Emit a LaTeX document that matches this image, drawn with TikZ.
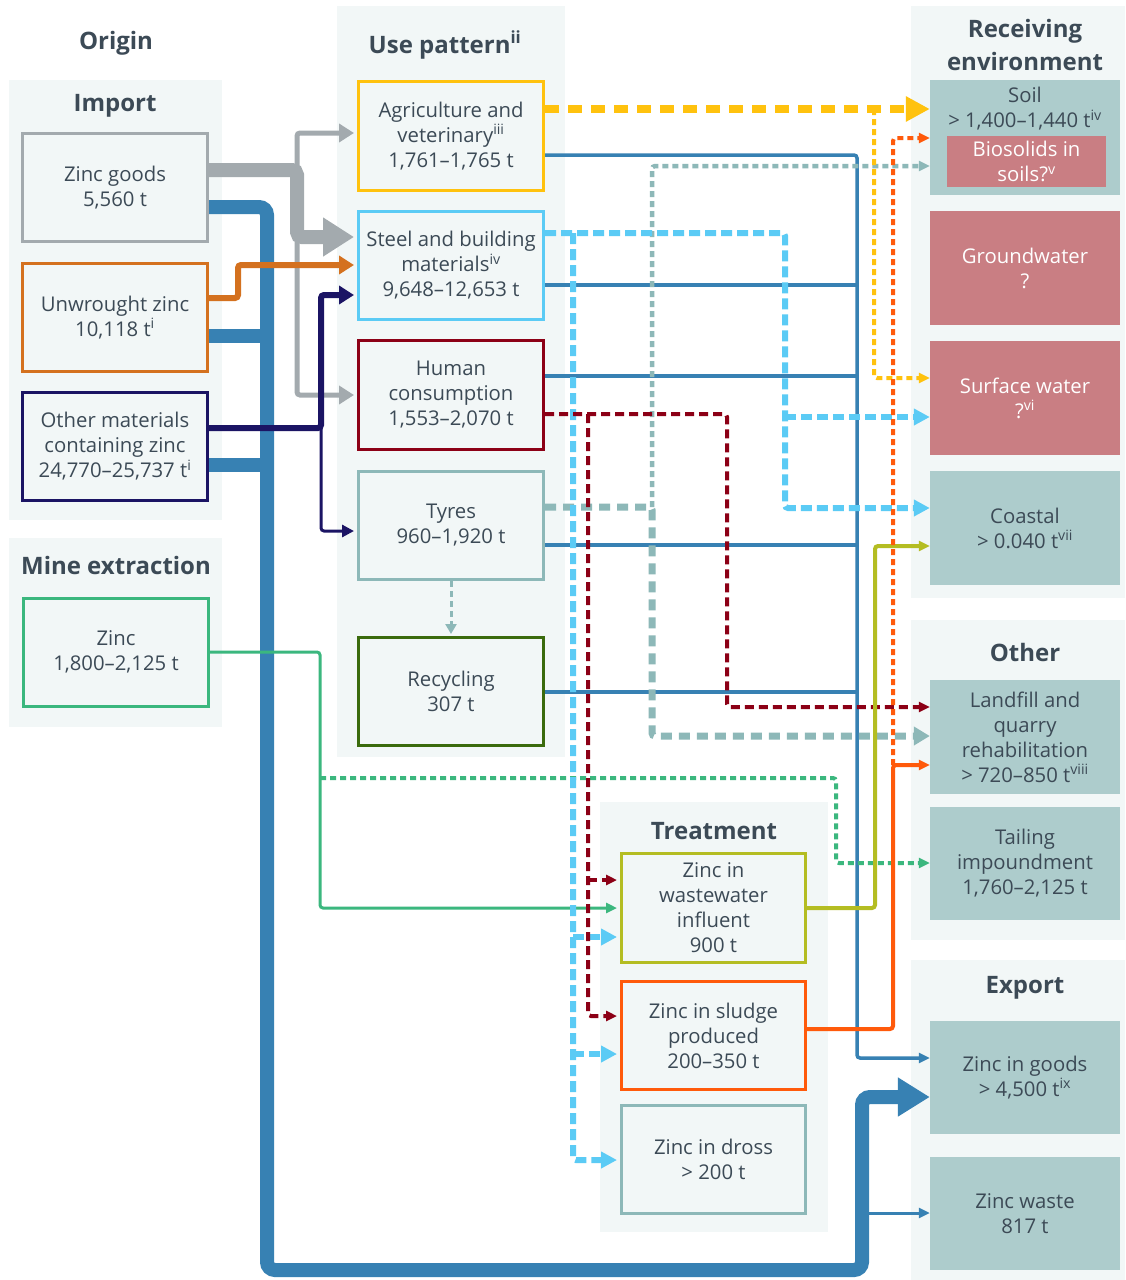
\documentclass[tikz,border=0pt]{standalone}
\usepackage{fontspec}
\setmainfont{Open Sans}
\usetikzlibrary{arrows.meta}
\definecolor{txt}{HTML}{3C4A56}
\definecolor{panel}{HTML}{F2F7F7}
\definecolor{cgray}{HTML}{A3AAAE}
\definecolor{corange}{HTML}{D4711F}
\definecolor{cnavy}{HTML}{1B1464}
\definecolor{cgreen}{HTML}{3BB77E}
\definecolor{cbus}{HTML}{3781B3}
\definecolor{cyel}{HTML}{FFC20E}
\definecolor{clblue}{HTML}{5BCBF5}
\definecolor{cdred}{HTML}{8C0016}
\definecolor{cteal}{HTML}{8DB8B8}
\definecolor{cdgreen}{HTML}{3B6B0D}
\definecolor{clime}{HTML}{B4BD22}
\definecolor{cored}{HTML}{FF5A0B}
\definecolor{rteal}{HTML}{ADCCCC}
\definecolor{rose}{HTML}{C97E83}
\newcommand\myBody{\fontsize{20.3}{25}\selectfont}
\newcommand\myHead{\fontsize{24}{33}\selectfont\bfseries}
\pgfdeclarelayer{panels}
\pgfdeclarelayer{lines}
\pgfsetlayers{panels,lines,main}
\tikzset{
  bx/.style={draw, line width=3pt, fill=panel, text=txt, align=center, inner sep=0pt,
    minimum width=185pt, minimum height=108pt, font=\myBody},
  rbox/.style={fill=rteal, text=txt, align=center, inner sep=0pt,
    minimum width=190pt, minimum height=114pt, font=\myBody},
  rrose/.style={rbox, fill=rose, text=white},
  hdr/.style={text=txt, font=\myHead, align=center, inner sep=0pt},
  smtip/.style={-{Triangle[length=11pt,width=10pt]}},
  mdtip/.style={-{Triangle[length=15pt,width=18pt]}},
  bigtip/.style={-{Triangle[length=32pt,width=37pt]}},
  conn/.style={rounded corners=3pt},
  shortdash/.style={dash pattern=on 6pt off 4pt},
}
\begin{document}
\begin{tikzpicture}[x=1pt,y=-1pt]
\useasboundingbox (0,0) rectangle (1125,1280);

% ---------- panels ----------
\begin{pgfonlayer}{panels}
\fill[white] (0,0) rectangle (1125,1280);
\fill[panel] (9,80) rectangle (222,520);
\fill[panel] (9,538) rectangle (222,727);
\fill[panel] (337,6) rectangle (565,757);
\fill[panel] (911,6) rectangle (1125,598);
\fill[panel] (911,620) rectangle (1125,940);
\fill[panel] (911,960) rectangle (1125,1280);
\fill[panel] (600,802) rectangle (828,1232);
\end{pgfonlayer}

% ---------- headers ----------
\node[hdr] (hOrigin) at (116,43) {Origin};
\node[hdr] (hImport) at (115,106) {Import};
\node[hdr] (hMine) at (116,565) {Mine extraction};
\node[hdr] (hUse) at (445,45) {Use pattern\textsuperscript{ii}};
\node[hdr] (hRecv) at (1025,45) {Receiving\\environment};
\node[hdr] (hOther) at (1025,652) {Other};
\node[hdr] (hExport) at (1025,988) {Export};
\node[hdr] (hTreat) at (714,831) {Treatment};

% ---------- origin boxes ----------
\node[bx, draw=cgray] (zg) at (115,187.5) {Zinc goods\\5,560 t};
\node[bx, draw=corange] (uz) at (115,317.5) {Unwrought zinc\\10,118 t\textsuperscript{i}};
\node[bx, draw=cnavy] (om) at (115,446.5) {Other materials\\containing zinc\\24,770–25,737 t\textsuperscript{i}};
\node[bx, draw=cgreen] (mz) at (116,652) {Zinc\\1,800–2,125 t};

% ---------- use pattern boxes ----------
\node[bx, draw=cyel, minimum height=109pt] (ag) at (451,136) {Agriculture and\\veterinary\textsuperscript{iii}\\1,761–1,765 t};
\node[bx, draw=clblue] (st) at (451,265.5) {Steel and building\\materials\textsuperscript{iv}\\9,648–12,653 t};
\node[bx, draw=cdred, minimum height=109pt] (hu) at (451,395) {Human\\consumption\\1,553–2,070 t};
\node[bx, draw=cteal] (ty) at (451,525.5) {Tyres\\960–1,920 t};
\node[bx, draw=cdgreen] (rc) at (451,691.5) {Recycling\\307 t};

% ---------- treatment boxes ----------
\node[bx, draw=clime, minimum width=184pt, minimum height=109pt] (ww) at (713.5,908) {Zinc in\\wastewater\\influent\\900 t};
\node[bx, draw=cored, minimum width=184pt] (sl) at (713.5,1035.5) {Zinc in sludge\\produced\\200–350 t};
\node[bx, draw=cteal, minimum width=184pt] (dr) at (713.5,1159.5) {Zinc in dross\\> 200 t};

% ---------- receiving / other / export ----------
\node[rbox, minimum height=115pt] (soil) at (1025,137.5) {};
\node[text=txt, font=\myBody, align=center, inner sep=0pt] (soilt) at (1025,109) {Soil\\> 1,400–1,440 t\textsuperscript{iv}};
\node[rrose, minimum width=159pt, minimum height=51pt] (bio) at (1026.5,161.5) {Biosolids in\\soils?\textsuperscript{v}};
\node[rrose] (gw) at (1025,268) {Groundwater\\?};
\node[rrose] (sw) at (1025,398) {Surface water\\?\textsuperscript{vi}};
\node[rbox] (co) at (1025,528) {Coastal\\> 0.040 t\textsuperscript{vii}};
\node[rbox] (lf) at (1025,737) {Landfill and\\quarry\\rehabilitation\\> 720–850 t\textsuperscript{viii}};
\node[rbox, minimum height=113pt] (ta) at (1025,863.5) {Tailing\\impoundment\\1,760–2,125 t};
\node[rbox, minimum height=113pt] (zgo) at (1025,1077.5) {Zinc in goods\\> 4,500 t\textsuperscript{ix}};
\node[rbox, minimum height=113pt] (zw) at (1025,1213.5) {Zinc waste\\817 t};

% ---------- junction coordinates ----------
\coordinate (gA) at (297,170);
\coordinate (gB) at (297,237);
\coordinate (nJ) at (321,428);
\coordinate (bWaste) at (862,1213);
\coordinate (yJ) at (874,109);
\coordinate (lbJ) at (785,417);
\coordinate (lbL) at (573,233);
\coordinate (lbW) at (573,937);
\coordinate (lbS) at (573,1054);
\coordinate (drL) at (588,414);
\coordinate (drW) at (588,880);
\coordinate (tyJ) at (652,507);
\coordinate (orJ) at (893,765);
\coordinate (grJ) at (320,778);
\coordinate (bU) at (267,336);
\coordinate (bO) at (267,465);
\coordinate (tb2) at (857,285);
\coordinate (tb3) at (857,376);
\coordinate (tb4) at (857,545);
\coordinate (tb5) at (857,692);

\begin{pgfonlayer}{lines}
% thick blue bus to export
\draw[cbus, line width=14pt, rounded corners=8pt, bigtip]
  (zg.east|-0,207) -| (267,1270) -| (862,1097) -- (zgo.west|-0,1097);
\draw[cbus, line width=14pt] (uz.east|-0,336) -- (bU);
\draw[cbus, line width=14pt] (om.east|-0,465) -- (bO);
\draw[cbus, line width=3pt, smtip] (bWaste) -- (zw.west|-0,1213);

% gray from zinc goods
\draw[cgray, line width=5pt, conn, mdtip, shorten >=3pt] (gA) |- (ag.west|-0,133);
\draw[cgray, line width=5pt, conn, mdtip, shorten >=3pt] (gB) |- (hu.west|-0,395);
\draw[cgray, line width=14pt, rounded corners=5pt, -{Triangle[length=31pt,width=37pt]}, shorten >=3pt]
  (zg.east|-0,170) -| (gB) -- (st.west|-0,237);

% orange from unwrought zinc
\draw[corange, line width=6pt, conn, mdtip, shorten >=3pt] (uz.east|-0,298) -| (238,265) -- (st.west|-0,265);

% navy from other materials
\draw[cnavy, line width=3pt, conn, -{Triangle[length=12pt,width=12pt]}, shorten >=3pt] (nJ) |- (ty.west|-0,531);
\draw[cnavy, line width=6pt, conn, mdtip, shorten >=3pt] (om.east|-0,428) -| (321,295) -- (st.west|-0,295);

% thin blue to zinc in goods
\draw[cbus, line width=3.5pt, conn, smtip] (ag.east|-0,155) -| (857,1058) -- (zgo.west|-0,1058);
\draw[cbus, line width=3.5pt] (st.east|-0,285) -- (tb2);
\draw[cbus, line width=3.5pt] (hu.east|-0,376) -- (tb3);
\draw[cbus, line width=3.5pt] (ty.east|-0,545) -- (tb4);
\draw[cbus, line width=3.5pt] (rc.east|-0,692) -- (tb5);

% green from mine
\draw[cgreen, line width=3pt, conn, smtip, shorten >=3pt] (mz.east|-0,652) -| (320,908) -- (ww.west|-0,908);
\draw[cgreen, line width=4pt, shortdash, conn, smtip] (grJ) -| (836,863) -- (ta.west|-0,863);

% tyres dashed
\draw[cteal, line width=4.5pt, shortdash, conn, smtip] (tyJ) |- (soil.west|-0,166);
\draw[cteal, line width=7pt, dash pattern=on 11pt off 7pt, conn, -{Triangle[length=16pt,width=18pt]}] (ty.east|-0,507) -| (652,736) -- (lf.west|-0,736);
\draw[cteal, line width=3pt, shortdash, -{Triangle[length=10pt,width=11pt]}, shorten >=2pt] (ty.south) -- (rc.north);

% steel light blue dashed
\draw[clblue, line width=6pt, dash pattern=on 11pt off 5pt, conn, -{Triangle[length=16pt,width=16pt]}] (st.east|-0,233) -| (785,508) -- (co.west|-0,508);
\draw[clblue, line width=6pt, dash pattern=on 11pt off 5pt, -{Triangle[length=16pt,width=16pt]}] (lbJ) -- (sw.west|-0,417);
\draw[clblue, line width=6pt, dash pattern=on 11pt off 5pt, conn, -{Triangle[length=16pt,width=16pt]}, shorten >=3pt] (lbL) |- (dr.west|-0,1160);
\draw[clblue, line width=6pt, dash pattern=on 11pt off 5pt, -{Triangle[length=16pt,width=16pt]}, shorten >=3pt] (lbW) -- (ww.west|-0,937);
\draw[clblue, line width=6pt, dash pattern=on 11pt off 5pt, -{Triangle[length=16pt,width=16pt]}, shorten >=3pt] (lbS) -- (sl.west|-0,1054);

% human consumption dark red dashed
\draw[cdred, line width=4pt, dash pattern=on 9pt off 5pt, conn, smtip] (hu.east|-0,414) -| (727,707) -- (lf.west|-0,707);
\draw[cdred, line width=4pt, dash pattern=on 9pt off 5pt, conn, smtip, shorten >=3pt] (drL) |- (sl.west|-0,1016);
\draw[cdred, line width=4pt, dash pattern=on 9pt off 5pt, smtip, shorten >=3pt] (drW) -- (ww.west|-0,880);

% agriculture yellow dashed
\draw[cyel, line width=8pt, dash pattern=on 14pt off 9pt, -{Triangle[length=24pt,width=24pt]}] (ag.east|-0,109) -- (soil.west|-0,109);
\draw[cyel, line width=4pt, shortdash, conn, smtip] (yJ) |- (sw.west|-0,378);

% wastewater lime
\draw[clime, line width=4pt, conn, smtip] (ww.east|-0,908) -| (875,546) -- (co.west|-0,546);

% sludge orange-red
\draw[cored, line width=4pt, conn, smtip] (sl.east|-0,1029) -| (orJ) -- (lf.west|-0,765);
\draw[cored, line width=4pt, shortdash, conn, smtip] (orJ) |- (soil.west|-0,138);
\end{pgfonlayer}
\end{tikzpicture}
\end{document}
